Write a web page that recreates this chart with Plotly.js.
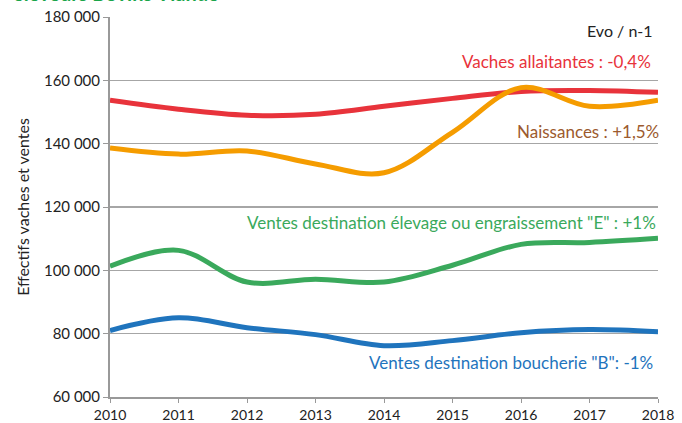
<!DOCTYPE html>
<html><head><meta charset="utf-8">
<script src="https://cdn.plot.ly/plotly-3.0.1.min.js"></script>
<style>html,body{margin:0;padding:0;background:#fff;}</style>
</head><body><div id="chart" style="width:682px;height:423px;"></div>
<script>
const years = [2010, 2011, 2012, 2013, 2014, 2015, 2016, 2017, 2018];
const vachesAllaitantes = [153700, 150900, 149000, 149300, 151800, 154300, 156500, 156800, 156200];
const naissances = [138600, 136700, 137700, 133600, 130800, 143600, 157700, 151800, 153700];
const ventesElevage = [101300, 106300, 96300, 97200, 96300, 101600, 108200, 108800, 110100];
const ventesBoucherie = [81000, 85000, 81900, 79700, 76200, 77800, 80300, 81300, 80600];
const yTicks = [60000, 80000, 100000, 120000, 140000, 160000, 180000];

const font = "Lato, 'Open Sans', sans-serif";
function tr(y, color) {
  return {x: years, y: y, type: 'scatter', mode: 'lines',
    line: {color: color, width: 5, shape: 'spline', smoothing: 1}, hoverinfo: 'skip'};
}
const data = [
  tr(vachesAllaitantes, '#e8333b'),
  tr(naissances, '#f59c00'),
  tr(ventesElevage, '#3aa95c'),
  tr(ventesBoucherie, '#1f74bd')
];
const layout = {
  width: 682, height: 423,
  margin: {l: 110, r: 24, t: 17, b: 26},
  paper_bgcolor: '#fff', plot_bgcolor: '#fff',
  showlegend: false,
  separators: ', ',
  font: {family: font, size: 14, color: '#333'},
  xaxis: {range: [2010, 2018], tickvals: years, ticks: 'outside', ticklen: 4, tickcolor: '#999',
    showline: true, linecolor: '#999', linewidth: 2, showgrid: false, zeroline: false,
    tickfont: {size: 14, color: '#222'}},
  yaxis: {range: [60000, 180000], tickvals: yTicks, tickformat: ',d', ticks: 'outside', ticklen: 5,
    tickcolor: '#999', showline: true, linecolor: '#999', linewidth: 2,
    gridcolor: '#a6a6a6', gridwidth: 1.5, zeroline: false,
    tickfont: {size: 15, color: '#222'},
    title: {text: 'Effectifs vaches et ventes', font: {size: 16, color: '#222'}, standoff: 10}},
  annotations: [
    {xref: 'paper', yref: 'paper', x: -0.18, y: 1.026, xanchor: 'left', yanchor: 'bottom',
      text: '<b>éleveurs Bovins Viande</b>', showarrow: false, font: {size: 20, color: '#1aa54a'}},
    {xref: 'paper', yref: 'y', x: 0.995, y: 175800, xanchor: 'right', text: 'Evo / n-1',
      showarrow: false, font: {size: 16, color: '#222'}},
    {xref: 'paper', yref: 'y', x: 0.99, y: 166000, xanchor: 'right', text: 'Vaches allaitantes : -0,4%',
      showarrow: false, font: {size: 17, color: '#e8333b'}},
    {xref: 'paper', yref: 'y', x: 1.005, y: 143700, xanchor: 'right', text: 'Naissances : +1,5%',
      showarrow: false, font: {size: 17, color: '#9c5a2e'}},
    {xref: 'paper', yref: 'y', x: 1.0, y: 115200, xanchor: 'right',
      text: 'Ventes destination élevage ou engraissement "E" : +1%',
      showarrow: false, font: {size: 17, color: '#3aa95c'}},
    {xref: 'paper', yref: 'y', x: 0.995, y: 71000, xanchor: 'right',
      text: 'Ventes destination boucherie "B": -1%',
      showarrow: false, font: {size: 17, color: '#1f74bd'}}
  ]
};
Plotly.newPlot('chart', data, layout, {displayModeBar: false, staticPlot: true});
</script></body></html>
